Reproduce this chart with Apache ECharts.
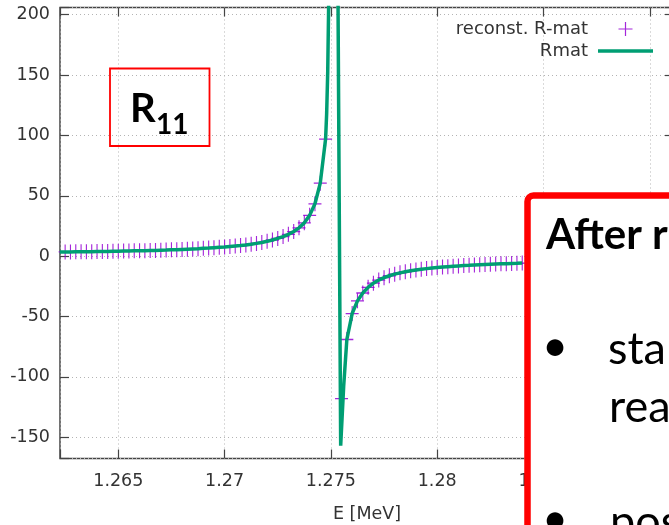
<!DOCTYPE html>
<html>
<head>
<meta charset="utf-8">
<title>R11 near the 1.275 MeV pole</title>
<script src="https://cdn.jsdelivr.net/npm/echarts@6/dist/echarts.min.js"></script>
<style>
  html, body { margin: 0; padding: 0; background: #fff; }
  #chart { width: 669px; height: 525px; }
</style>
</head>
<body>
<div id="chart"></div>
<script>
// Reconstructed R-matrix element, sampled every 0.25 keV (MeV units)
const reconE = [
  1.26225,
  1.2625, 1.26275, 1.263, 1.26325, 1.2635, 1.26375, 1.264, 1.26425, 1.2645, 1.26475,
  1.265, 1.26525, 1.2655, 1.26575, 1.266, 1.26625, 1.2665, 1.26675, 1.267, 1.26725,
  1.2675, 1.26775, 1.268, 1.26825, 1.2685, 1.26875, 1.269, 1.26925, 1.2695, 1.26975,
  1.27, 1.27025, 1.2705, 1.27075, 1.271, 1.27125, 1.2715, 1.27175, 1.272, 1.27225,
  1.2725, 1.27275, 1.273, 1.27325, 1.2735, 1.27375, 1.274, 1.27425, 1.2745, 1.27475,
  1.2755, 1.27575, 1.276, 1.27625, 1.2765, 1.27675, 1.277, 1.27725,
  1.2775, 1.27775, 1.278, 1.27825, 1.2785, 1.27875, 1.279, 1.27925, 1.2795, 1.27975,
  1.28, 1.28025, 1.2805, 1.28075, 1.281, 1.28125, 1.2815, 1.28175, 1.282, 1.28225,
  1.2825, 1.28275, 1.283, 1.28325, 1.2835, 1.28375, 1.284
];
const reconR = [
  3.4,
  3.5, 3.5, 3.6, 3.6, 3.7, 3.7, 3.8, 3.9, 3.9, 4.0,
  4.1, 4.2, 4.3, 4.4, 4.5, 4.6, 4.7, 4.8, 5.0, 5.1,
  5.3, 5.4, 5.6, 5.8, 6.0, 6.2, 6.5, 6.7, 7.0, 7.3,
  7.6, 8.0, 8.4, 8.8, 9.3, 9.9, 10.6, 11.4, 12.3, 13.4,
  14.7, 16.2, 18.1, 20.4, 23.5, 27.6, 33.8, 43.4, 60.5, 97.0,
  -118, -69, -47.5, -37, -30.5, -25.8, -22.4, -19.8,
  -17.8, -16.2, -14.9, -13.8, -12.9, -12.1, -11.4, -10.8, -10.3, -9.8,
  -9.4, -9.0, -8.7, -8.4, -8.1, -7.8, -7.6, -7.3, -7.1, -6.9,
  -6.7, -6.5, -6.3, -6.2, -6.0, -5.9, -5.7
];

// R-matrix curve, with extra samples around the pole
const rmatE = [
  1.26225,
  1.2625, 1.26275, 1.263, 1.26325, 1.2635, 1.26375, 1.264, 1.26425, 1.2645, 1.26475,
  1.265, 1.26525, 1.2655, 1.26575, 1.266, 1.26625, 1.2665, 1.26675, 1.267, 1.26725,
  1.2675, 1.26775, 1.268, 1.26825, 1.2685, 1.26875, 1.269, 1.26925, 1.2695, 1.26975,
  1.27, 1.27025, 1.2705, 1.27075, 1.271, 1.27125, 1.2715, 1.27175, 1.272, 1.27225,
  1.2725, 1.27275, 1.273, 1.27325, 1.2735, 1.27375, 1.274, 1.27425, 1.2745, 1.27475,
  1.2748, 1.27485, 1.2749, 1.2751, 1.27546, 1.2756,
  1.27575, 1.276, 1.27625, 1.2765, 1.27675, 1.277, 1.27725,
  1.2775, 1.27775, 1.278, 1.27825, 1.2785, 1.27875, 1.279, 1.27925, 1.2795, 1.27975,
  1.28, 1.28025, 1.2805, 1.28075, 1.281, 1.28125, 1.2815, 1.28175, 1.282, 1.28225,
  1.2825, 1.28275, 1.283, 1.28325, 1.2835, 1.28375, 1.284
];
const rmatR = [
  3.4,
  3.5, 3.5, 3.6, 3.6, 3.7, 3.7, 3.8, 3.9, 3.9, 4.0,
  4.1, 4.2, 4.3, 4.4, 4.5, 4.6, 4.7, 4.8, 5.0, 5.1,
  5.3, 5.4, 5.6, 5.8, 6.0, 6.2, 6.5, 6.7, 7.0, 7.3,
  7.6, 8.0, 8.4, 8.8, 9.3, 9.9, 10.6, 11.4, 12.3, 13.4,
  14.7, 16.2, 18.1, 20.4, 23.5, 27.6, 33.8, 43.4, 60.5, 97.0,
  118, 152, 215, 900, -157, -108,
  -69, -47.5, -37, -30.5, -25.8, -22.4, -19.8,
  -17.8, -16.2, -14.9, -13.8, -12.9, -12.1, -11.4, -10.8, -10.3, -9.8,
  -9.4, -9.0, -8.7, -8.4, -8.1, -7.8, -7.6, -7.3, -7.1, -6.9,
  -6.7, -6.5, -6.3, -6.2, -6.0, -5.9, -5.7
];

const seriesNames = ['reconst. R-mat', 'Rmat'];
const xTitle = 'E [MeV]';
const xRange = [1.262258, 1.291138];
const yRange = [-167.56, 205.96];

const AXIS_FONT = "'DejaVu Sans', sans-serif";
const SLIDE_FONT = "Lato, 'Open Sans', sans-serif";
const PLUS = 'path://M0,7L14,7M7,0L7,14';
const BAR = 'path://M0,0L55,0L55,3.5L0,3.5Z';

function onStep(v, step) {
  const q = v / step;
  return Math.abs(q - Math.round(q)) < 1e-6;
}

const chart = echarts.init(document.getElementById('chart'), null, { renderer: 'canvas' });

const tickStyle = { show: true, inside: true, length: 9, lineStyle: { color: '#444', width: 1.2 } };
const gridLine = { show: true, lineStyle: { color: '#b4b4b4', width: 1, type: [1, 3] } };
const noLine = { show: false, onZero: false };

chart.setOption({
  animation: false,
  backgroundColor: '#fff',
  grid: {
    left: 60, top: 7.5, width: 614, height: 451,
    outerBoundsMode: 'none', containLabel: false,
    show: true, borderColor: '#444', borderWidth: 1.5, backgroundColor: 'transparent'
  },
  xAxis: [
    {
      type: 'value', min: xRange[0], max: xRange[1], splitNumber: 5, position: 'bottom',
      axisLine: noLine,
      axisTick: tickStyle,
      splitLine: gridLine,
      axisLabel: {
        margin: 14, color: '#333', fontFamily: AXIS_FONT, fontSize: 17.5,
        formatter: v => onStep(v, 0.005) ? String(+v.toFixed(4)) : ''
      },
      name: xTitle, nameLocation: 'middle', nameGap: 47,
      nameTextStyle: { color: '#333', fontFamily: AXIS_FONT, fontSize: 17.5 }
    },
    {
      type: 'value', min: xRange[0], max: xRange[1], splitNumber: 5, position: 'top',
      axisLine: noLine, axisTick: tickStyle,
      splitLine: { show: false }, axisLabel: { show: false }
    }
  ],
  yAxis: [
    {
      type: 'value', min: yRange[0], max: yRange[1], splitNumber: 7, position: 'left',
      axisLine: noLine,
      axisTick: tickStyle,
      splitLine: gridLine,
      axisLabel: {
        margin: 10, color: '#333', fontFamily: AXIS_FONT, fontSize: 17.5,
        formatter: v => onStep(v, 50) ? String(Math.round(v)) : ''
      }
    },
    {
      type: 'value', min: yRange[0], max: yRange[1], splitNumber: 7, position: 'right',
      axisLine: noLine, axisTick: tickStyle,
      splitLine: { show: false }, axisLabel: { show: false }
    }
  ],
  legend: {
    orient: 'vertical', right: 11, top: 15, align: 'right',
    itemWidth: 55, itemHeight: 14, itemGap: 4,
    textStyle: { fontFamily: AXIS_FONT, fontSize: 18, color: '#333', padding: [0, 5, 0, 0] },
    data: [
      { name: seriesNames[0], icon: PLUS,
        itemStyle: { color: '#9400d3', borderColor: '#9400d3', borderWidth: 1.2 } },
      { name: seriesNames[1], icon: BAR,
        itemStyle: { color: '#009e73', borderWidth: 0 } }
    ]
  },
  series: [
    {
      name: seriesNames[0], type: 'scatter', xAxisIndex: 0, yAxisIndex: 0,
      symbol: PLUS, symbolSize: [13, 15], clip: true,
      itemStyle: { color: '#9400d3', borderColor: '#9400d3', borderWidth: 1.2, opacity: 0.85 },
      data: reconE.map((e, i) => [e, reconR[i]])
    },
    {
      name: seriesNames[1], type: 'line', xAxisIndex: 0, yAxisIndex: 0,
      showSymbol: false, symbol: 'none', clip: true,
      lineStyle: { color: '#009e73', width: 3.5 },
      itemStyle: { color: '#009e73' },
      data: rmatE.map((e, i) => [e, rmatR[i]])
    }
  ],
  graphic: [
    // R11 label
    { type: 'rect', z: 50, shape: { x: 110, y: 68.5, width: 99.5, height: 77.5 },
      style: { fill: 'none', stroke: '#ff0000', lineWidth: 1.8 } },
    { type: 'text', z: 51, x: 130, y: 109,
      style: { text: 'R', font: 'bold 40px ' + SLIDE_FONT, fill: '#000', verticalAlign: 'middle' } },
    { type: 'text', z: 51, x: 156, y: 125,
      style: { text: '11', font: 'bold 28px ' + SLIDE_FONT, fill: '#000', verticalAlign: 'middle' } },
    // notes panel
    { type: 'rect', z: 100, shape: { x: 527.5, y: 195.5, width: 300, height: 500, r: 6 },
      style: { fill: '#fff', stroke: '#ff0000', lineWidth: 6.5 } },
    { type: 'text', z: 101, x: 546, y: 235,
      style: { text: 'After r', font: 'bold 42px ' + SLIDE_FONT, fill: '#000', verticalAlign: 'middle' } },
    { type: 'text', z: 101, x: 555, y: 346,
      style: { text: '•', font: '45px ' + SLIDE_FONT, fill: '#000', align: 'center', verticalAlign: 'middle' } },
    { type: 'text', z: 101, x: 608, y: 349,
      style: { text: 'star', font: '45px ' + SLIDE_FONT, fill: '#000', verticalAlign: 'middle' } },
    { type: 'text', z: 101, x: 609, y: 407,
      style: { text: 'rea', font: '45px ' + SLIDE_FONT, fill: '#000', verticalAlign: 'middle' } },
    { type: 'text', z: 101, x: 555, y: 519,
      style: { text: '•', font: '45px ' + SLIDE_FONT, fill: '#000', align: 'center', verticalAlign: 'middle' } },
    { type: 'text', z: 101, x: 610, y: 522,
      style: { text: 'pos', font: '45px ' + SLIDE_FONT, fill: '#000', verticalAlign: 'middle' } }
  ]
});
</script>
</body>
</html>
